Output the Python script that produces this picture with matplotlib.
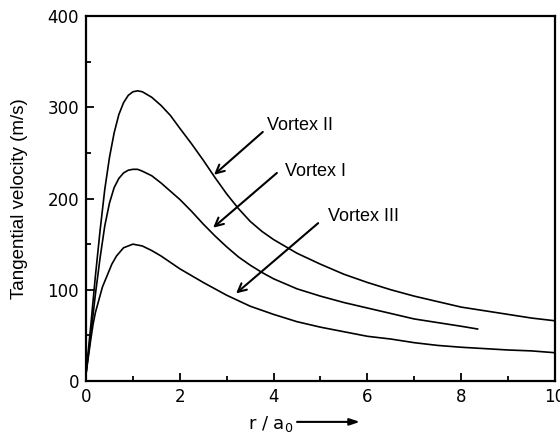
"""
Tangential velocity profiles of the three vortices
"""
import matplotlib
matplotlib.use("Agg")
import matplotlib.pyplot as plt
from matplotlib.ticker import MultipleLocator

# Vortex II
r_vortex2 = [0, 0.1, 0.2, 0.3, 0.4, 0.5, 0.6, 0.7, 0.8, 0.9, 1.0, 1.1, 1.2, 1.4,
             1.6, 1.8, 2.0, 2.25, 2.5, 2.75, 3.0, 3.25, 3.5, 3.75, 4.0, 4.5, 5.0,
             5.5, 6.0, 6.5, 7.0, 7.5, 8.0, 8.5, 9.0, 9.5, 10.0]
v_vortex2 = [8, 60, 115, 165, 210, 245, 272, 292, 305, 313, 317, 318, 317, 311,
             302, 291, 277, 260, 242, 223, 205, 189, 175, 164, 155, 140, 128,
             117, 108, 100, 93, 87, 81, 77, 73, 69, 66]

# Vortex I
r_vortex1 = [0, 0.1, 0.2, 0.3, 0.4, 0.5, 0.6, 0.7, 0.8, 0.9, 1.0, 1.1, 1.2, 1.4,
             1.6, 1.8, 2.0, 2.25, 2.5, 2.75, 3.0, 3.25, 3.5, 3.75, 4.0, 4.5, 5.0,
             5.5, 6.0, 6.5, 7.0, 7.5, 8.0, 8.35]
v_vortex1 = [8, 50, 95, 135, 170, 195, 212, 222, 228, 231, 232, 232, 230, 225,
             217, 208, 199, 186, 172, 159, 147, 136, 127, 119, 112, 101, 93,
             86, 80, 74, 68, 64, 60, 57]

# Vortex III
r_vortex3 = [0, 0.1, 0.15, 0.2, 0.35, 0.55, 0.65, 0.8, 1.0, 1.2, 1.4, 1.6, 1.8,
             2.0, 2.5, 3.0, 3.5, 4.0, 4.5, 5.0, 5.5, 6.0, 6.5, 7.0, 7.5, 8.0,
             8.5, 9.0, 9.5, 10.0]
v_vortex3 = [8, 45, 62, 75, 103, 128, 137, 146, 150, 148, 143, 137, 130,
             123, 108, 94, 82, 73, 65, 59, 54, 49, 46, 42, 39, 37,
             35.5, 34, 33, 31]

# label text, text anchor (data), arrow tail and head (data)
labels = ["Vortex II", "Vortex I", "Vortex III"]
label_pos = [(3.86, 280), (4.24, 230), (5.16, 180)]
arrow_tail = [(3.77, 273), (4.07, 228), (4.95, 173)]
arrow_head = [(2.73, 226), (2.71, 168), (3.2, 96)]

fig = plt.figure(figsize=(5.6, 4.45), dpi=100)
ax = fig.add_axes([0.1536, 0.1438, 0.8374, 0.8202])

for r, v in [(r_vortex2, v_vortex2), (r_vortex1, v_vortex1), (r_vortex3, v_vortex3)]:
    ax.plot(r, v, color="black", lw=1.2)

for text, pos, tail, head in zip(labels, label_pos, arrow_tail, arrow_head):
    ax.text(pos[0], pos[1], text, fontsize=13, family="Liberation Sans",
            va="center", ha="left")
    ax.annotate("", xy=head, xytext=tail,
                arrowprops=dict(arrowstyle="->,head_length=0.6,head_width=0.3",
                                color="black", lw=1.5, shrinkA=0, shrinkB=0))

ax.set_xlim(0, 10)
ax.set_ylim(0, 400)
ax.xaxis.set_major_locator(MultipleLocator(2))
ax.xaxis.set_minor_locator(MultipleLocator(1))
ax.yaxis.set_major_locator(MultipleLocator(100))
ax.yaxis.set_minor_locator(MultipleLocator(50))
ax.tick_params(which="both", direction="in", top=False, right=False,
               labelsize=12, width=1.3, pad=5)
ax.tick_params(which="major", length=6)
ax.tick_params(which="minor", length=3.5)
for spine in ax.spines.values():
    spine.set_linewidth(1.6)

ax.set_ylabel("Tangential velocity (m/s)", fontsize=13.5, family="Liberation Sans",
              labelpad=14)

# x label with arrow pointing to the right
ax.text(0.346, -0.118, r"r / a$_0$", transform=ax.transAxes, fontsize=13,
        va="center", ha="left")
ax.annotate("", xy=(0.584, -0.112), xytext=(0.45, -0.112),
            xycoords="axes fraction", textcoords="axes fraction",
            arrowprops=dict(arrowstyle="-|>,head_length=0.6,head_width=0.2",
                            color="black", lw=1.5, shrinkA=0, shrinkB=0),
            annotation_clip=False)

plt.savefig("out.png", dpi=100)
plt.close()
